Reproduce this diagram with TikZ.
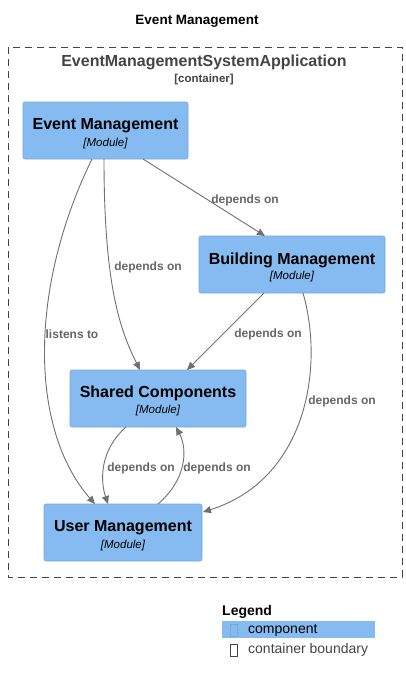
\documentclass[tikz,border=0pt]{standalone}
\usepackage{fontspec}
\setmainfont{Liberation Sans}
\usetikzlibrary{arrows.meta}
\definecolor{compfill}{HTML}{85BBF0}
\definecolor{compborder}{HTML}{78A8D8}
\definecolor{edgecol}{HTML}{707070}
\definecolor{labcol}{HTML}{666666}
\definecolor{bndcol}{HTML}{444444}
\tikzset{
  comp/.style={draw=compborder, fill=compfill, rounded corners=2pt, line width=0.6pt},
  ttl/.style={font=\fontsize{16}{18}\selectfont\bfseries, text=black, inner sep=0pt},
  sub/.style={font=\fontsize{11.5}{13}\selectfont\itshape, text=black, inner sep=0pt},
  rel/.style={draw=edgecol, line width=0.9pt, -{Triangle[length=8pt,width=7pt]}},
  lab/.style={font=\fontsize{12}{14}\selectfont\bfseries, text=labcol, inner sep=1pt},
}
\begin{document}
\begin{tikzpicture}[x=1pt,y=-1pt]
\useasboundingbox (0,0) rectangle (406,683);
% title
\node[font=\fontsize{13.5}{15}\selectfont\bfseries, inner sep=0pt] (title) at (197,21) {Event Management};
% container boundary
\draw[bndcol, dashed, dash pattern=on 7pt off 5pt, line width=0.7pt] (8,47) rectangle (402,577);
\node[font=\fontsize{16}{19}\selectfont\bfseries, text=bndcol, inner sep=0pt] (ctitle) at (204,62) {EventManagementSystemApplication};
\node[font=\fontsize{11.5}{13}\selectfont\bfseries, text=bndcol, inner sep=0pt] (csub) at (204,80) {[container]};
% components
\draw[comp] (23,102) rectangle (188,159);
\node[minimum width=165pt, minimum height=57pt, inner sep=0pt] (em) at (105.5,130.5) {};
\node[ttl] at (105.5,126) {Event Management};
\node[sub] at (105.5,144) {[Module]};

\draw[comp] (199,236) rectangle (385,293);
\node[minimum width=186pt, minimum height=57pt, inner sep=0pt] (bm) at (292,264.5) {};
\node[ttl] at (292,260) {Building Management};
\node[sub] at (292,277) {[Module]};

\draw[comp] (70,370) rectangle (246,427);
\node[minimum width=176pt, minimum height=57pt, inner sep=0pt] (sc) at (158,398.5) {};
\node[ttl] at (158,393) {Shared Components};
\node[sub] at (158,411) {[Module]};

\draw[comp] (44,504) rectangle (202,561);
\node[minimum width=158pt, minimum height=57pt, inner sep=0pt] (um) at (123,532.5) {};
\node[ttl] at (123,528) {User Management};
\node[sub] at (123,546) {[Module]};

% coordinates on borders
\coordinate (emA) at (143,159);
\coordinate (emB) at (104,159);
\coordinate (emC) at (92,159);
\coordinate (bmT) at (265,236);
\coordinate (bmA) at (264,293);
\coordinate (bmB) at (303,293);
\coordinate (scT1) at (140,370);
\coordinate (scT2) at (187,370);
\coordinate (scB1) at (126,427);
\coordinate (scB2) at (176,427);
\coordinate (umT1) at (95,504);
\coordinate (umT2) at (108,504);
\coordinate (umT3) at (158,504);
\coordinate (umR) at (203,512);

% edges
\draw[rel] (emA) -- (bmT);
\node[lab] (l1) at (245,200) {depends on};
\draw[rel] (emB) .. controls (104,285) and (120,330) .. (scT1);
\node[lab] (l2) at (148,267) {depends on};
\draw[rel] (emC) .. controls (28,290) and (30,430) .. (umT1);
\node[lab] (l3) at (72,334) {listens to};
\draw[rel] (bmA) -- (scT2);
\node[lab] (l4) at (268,334) {depends on};
\draw[rel] (bmB) .. controls (325,370) and (305,480) .. (umR);
\node[lab] (l5) at (342,401) {depends on};
\draw[rel] (scB1) .. controls (100,450) and (100,480) .. (umT2);
\node[lab] (l6) at (141,468) {depends on};
\draw[rel] (umT3) .. controls (186,480) and (188,450) .. (scB2);
\node[lab] (l7) at (217,468) {depends on};

% legend
\node[font=\fontsize{14}{16}\selectfont\bfseries, anchor=west, inner sep=0pt] (leg) at (222,612) {Legend};
\fill[compfill] (222,621) rectangle (375,638);
\draw[compborder, line width=0.5pt] (230,624) rectangle (237,636);
\node[font=\fontsize{14}{16}\selectfont, anchor=west, inner sep=0pt, text=black] (lc) at (248,630) {component};
\draw[bndcol, line width=0.6pt] (230,644) rectangle (237,656);
\node[font=\fontsize{14}{16}\selectfont, anchor=west, inner sep=0pt, text=bndcol] (lb) at (248,650) {container boundary};
\end{tikzpicture}
\end{document}
